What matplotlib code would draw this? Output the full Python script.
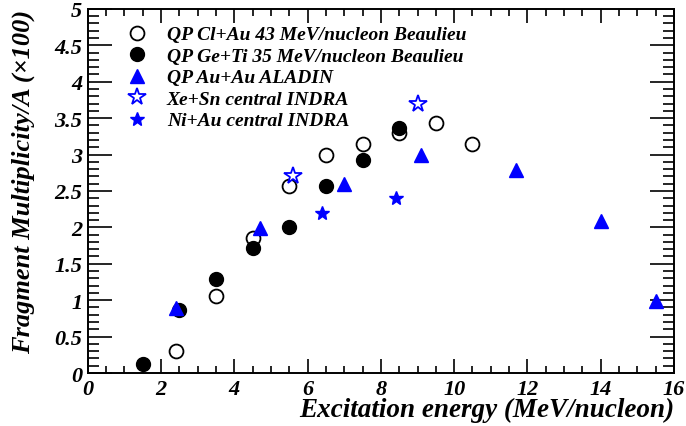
import matplotlib.pyplot as plt
from matplotlib.ticker import MultipleLocator

# QP Cl+Au 43 MeV/nucleon (Beaulieu)
clau_x = [2.4, 3.5, 4.5, 5.5, 6.5, 7.5, 8.5, 9.5, 10.5]
clau_y = [0.30, 1.06, 1.86, 2.57, 3.00, 3.15, 3.30, 3.43, 3.15]

# QP Ge+Ti 35 MeV/nucleon (Beaulieu)
geti_x = [1.5, 2.5, 3.5, 4.5, 5.5, 6.5, 7.5, 8.5]
geti_y = [0.13, 0.86, 1.29, 1.71, 2.00, 2.57, 2.93, 3.36]

# QP Au+Au ALADIN
auau_x = [2.4, 4.7, 7.0, 9.1, 11.7, 14.0, 15.5]
auau_y = [0.89, 1.99, 2.60, 2.99, 2.79, 2.09, 0.99]

# Xe+Sn central INDRA
xesn_x = [5.6, 9.0]
xesn_y = [2.70, 3.70]

# Ni+Au central INDRA
niau_x = [6.4, 8.4]
niau_y = [2.20, 2.40]

plt.rcParams['font.family'] = ['Liberation Serif', 'DejaVu Serif']
plt.rcParams['font.style'] = 'italic'
plt.rcParams['font.weight'] = 'bold'
plt.rcParams['axes.labelweight'] = 'bold'

fig = plt.figure(figsize=(6.86, 4.27), dpi=100)
ax = fig.add_axes([0.128, 0.124, 0.8545, 0.853])

ax.plot(clau_x, clau_y, 'o', ms=10, mfc='white', mec='black', mew=1.3,
        label='QP Cl+Au 43 MeV/nucleon Beaulieu')
ax.plot(geti_x, geti_y, 'o', ms=10, color='black',
        label='QP Ge+Ti 35 MeV/nucleon Beaulieu')
ax.plot(auau_x, auau_y, '^', ms=10, color='blue',
        label='QP Au+Au ALADIN')
ax.plot(xesn_x, xesn_y, '*', ms=13, mfc='white', mec='blue', mew=1.3,
        label='Xe+Sn central INDRA')
ax.plot(niau_x, niau_y, '*', ms=10, color='blue',
        label='Ni+Au central INDRA')

ax.set_xlim(0, 16)
ax.set_ylim(0, 5)
ax.xaxis.set_major_locator(MultipleLocator(2))
ax.xaxis.set_minor_locator(MultipleLocator(0.5))
ax.yaxis.set_major_locator(MultipleLocator(0.5))
ax.yaxis.set_minor_locator(MultipleLocator(0.1))
ax.yaxis.set_major_formatter(plt.FuncFormatter(lambda v, p: f'{v:g}'))
ax.tick_params(which='both', direction='in', top=True, right=True, width=1.2,
               labelsize=16)
ax.tick_params(axis='x', which='major', length=10, pad=4)
ax.tick_params(axis='x', which='minor', length=5)
ax.tick_params(axis='y', which='major', length=17, pad=4)
ax.tick_params(axis='y', which='minor', length=8)
plt.setp(ax.get_xticklabels() + ax.get_yticklabels(),
         fontweight='bold', fontstyle='italic')
for s in ax.spines.values():
    s.set_linewidth(1.4)

ax.set_xlabel('Excitation energy (MeV/nucleon)', fontsize=19.5, loc='right',
              labelpad=-1, fontweight='bold', fontstyle='italic')
ax.set_ylabel('Fragment Multiplicity/A (×100)', fontsize=19, loc='top',
              labelpad=14, fontweight='bold', fontstyle='italic')

leg = ax.legend(loc='upper left', bbox_to_anchor=(0.05, 0.975), frameon=False,
                prop={'size': 14, 'weight': 'bold', 'style': 'italic'},
                handletextpad=0.95, labelspacing=0.2,
                handlelength=1.2, borderaxespad=0)

fig.savefig('out.png', dpi=100)
